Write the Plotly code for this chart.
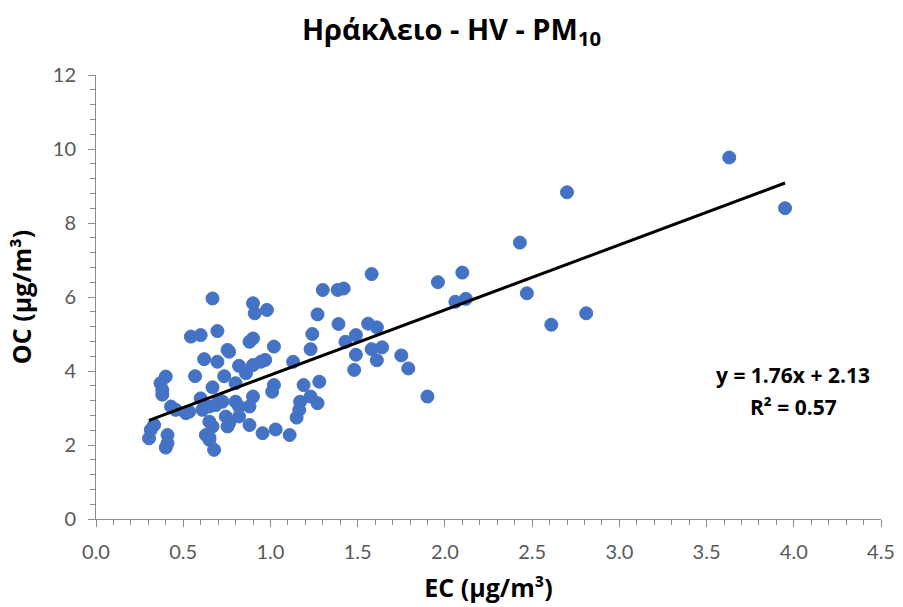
import plotly.graph_objects as go
import numpy as np

EC = [3.63, 3.95, 2.70, 2.43, 2.47, 2.61, 2.81, 2.10, 2.06, 2.12, 1.96, 1.90, 1.58, 1.79, 1.75,
      1.64, 1.61, 1.56, 1.58, 1.61, 1.48, 1.49, 1.49, 1.43, 1.42, 1.385, 1.39, 1.30, 1.27, 1.24,
      1.23, 1.28, 1.27, 1.19, 1.23, 1.17, 1.165, 1.15, 1.13, 1.11, 1.03, 0.955, 1.02, 1.02, 1.01,
      0.98, 0.97, 0.945, 0.90, 0.90, 0.91, 0.90, 0.88, 0.90, 0.88, 0.82, 0.80, 0.88, 0.86, 0.82,
      0.80, 0.82, 0.754, 0.744, 0.763, 0.725, 0.735, 0.754, 0.763, 0.696, 0.62, 0.696, 0.668, 0.60,
      0.544, 0.568, 0.668, 0.60, 0.687, 0.706, 0.61, 0.65, 0.65, 0.668, 0.63, 0.65, 0.65, 0.677,
      0.515, 0.534, 0.43, 0.457, 0.40, 0.37, 0.38, 0.38, 0.333, 0.314, 0.304, 0.41, 0.41, 0.40]
OC = [9.77, 8.40, 8.83, 7.47, 6.10, 5.25, 5.56, 6.66, 5.87, 5.95, 6.40, 3.31, 6.62, 4.07, 4.42,
      4.64, 5.18, 5.28, 4.59, 4.29, 4.03, 4.44, 4.97, 4.79, 6.23, 6.19, 5.27, 6.19, 5.53, 5.00,
      4.59, 3.71, 3.13, 3.62, 3.31, 3.17, 2.95, 2.74, 4.25, 2.27, 2.42, 2.32, 4.66, 3.62, 3.44,
      5.65, 4.30, 4.25, 4.16, 5.83, 5.56, 4.88, 4.79, 3.31, 3.04, 3.04, 3.17, 2.54, 3.94, 4.14,
      3.67, 2.77, 2.50, 2.77, 2.59, 3.17, 3.86, 4.57, 4.52, 4.25, 4.32, 5.08, 5.96, 4.97,
      4.93, 3.86, 3.56, 3.26, 3.08, 3.22, 2.95, 3.04, 2.63, 2.50, 2.27, 2.20, 2.14, 1.87,
      2.86, 2.90, 3.04, 2.95, 3.85, 3.67, 3.49, 3.36, 2.54, 2.41, 2.18, 2.27, 2.05, 1.93]

SLOPE = 1.76
INTERCEPT = 2.13
R2 = 0.57

X_TICKS = [0.0, 0.5, 1.0, 1.5, 2.0, 2.5, 3.0, 3.5, 4.0, 4.5]
Y_TICKS = [0, 2, 4, 6, 8, 10, 12]

TITLE = "Ηράκλειο - HV - PM<sub>10</sub>"
X_TITLE = "EC (μg/m³)"
Y_TITLE = "OC (μg/m³)"

BLUE = "#4472C4"
AXIS = "#8c8c8c"
TICKF = dict(family="Lato, Noto Sans, sans-serif", size=20, color="#595959")
BOLDF = "Open Sans, Noto Sans, sans-serif"

fit_x = np.array([min(EC), max(EC)])
fit_y = SLOPE * fit_x + INTERCEPT

fig = go.Figure()
fig.add_trace(go.Scatter(x=EC, y=OC, mode="markers",
                         marker=dict(size=13, color=BLUE, line=dict(color=BLUE, width=1)),
                         showlegend=False, hoverinfo="x+y"))
fig.add_trace(go.Scatter(x=fit_x, y=fit_y, mode="lines",
                         line=dict(color="black", width=3), showlegend=False))

fig.update_layout(
    width=903, height=607,
    paper_bgcolor="white", plot_bgcolor="white",
    margin=dict(l=96, r=22, t=75, b=88),
    title=dict(text=f"<b>{TITLE}</b>", x=0.5, xanchor="center",
               yref="container", y=1 - 30 / 607, yanchor="middle",
               font=dict(family=BOLDF, size=29, color="black")),
    xaxis=dict(range=[0, 4.5], tickvals=X_TICKS, ticktext=[f"{v:.1f}" for v in X_TICKS],
               showgrid=False, zeroline=False, showline=True, linecolor=AXIS, linewidth=1,
               ticks="outside", ticklen=7, tickcolor=AXIS, tickfont=TICKF,
               ticklabelstandoff=8, automargin=False,
               minor=dict(dtick=0.1, ticks="outside", ticklen=5, tickcolor=AXIS, showgrid=False),
               title=dict(text=f"<b>{X_TITLE}</b>", font=dict(family=BOLDF, size=25, color="black"),
                          standoff=17)),
    yaxis=dict(range=[0, 12], tickvals=Y_TICKS, ticktext=[str(v) for v in Y_TICKS],
               showgrid=False, zeroline=False, showline=True, linecolor=AXIS, linewidth=1,
               ticks="outside", ticklen=7, tickcolor=AXIS, tickfont=TICKF,
               ticklabelstandoff=8, automargin=False,
               minor=dict(dtick=0.4, ticks="outside", ticklen=5, tickcolor=AXIS, showgrid=False),
               title=dict(text=f"<b>{Y_TITLE}</b>", font=dict(family=BOLDF, size=25, color="black"),
                          standoff=14)),
)
fig.add_annotation(x=0.888, y=0.324, xref="paper", yref="paper", showarrow=False,
                   xanchor="center", yanchor="middle",
                   text=f"<b>y = {SLOPE:.2f}x + {INTERCEPT:.2f}</b>",
                   font=dict(family=BOLDF, size=21, color="black"))
fig.add_annotation(x=0.888, y=0.252, xref="paper", yref="paper", showarrow=False,
                   xanchor="center", yanchor="middle",
                   text=f"<b>R² = {R2:.2f}</b>",
                   font=dict(family=BOLDF, size=21, color="black"))

fig.write_html("out.html")
